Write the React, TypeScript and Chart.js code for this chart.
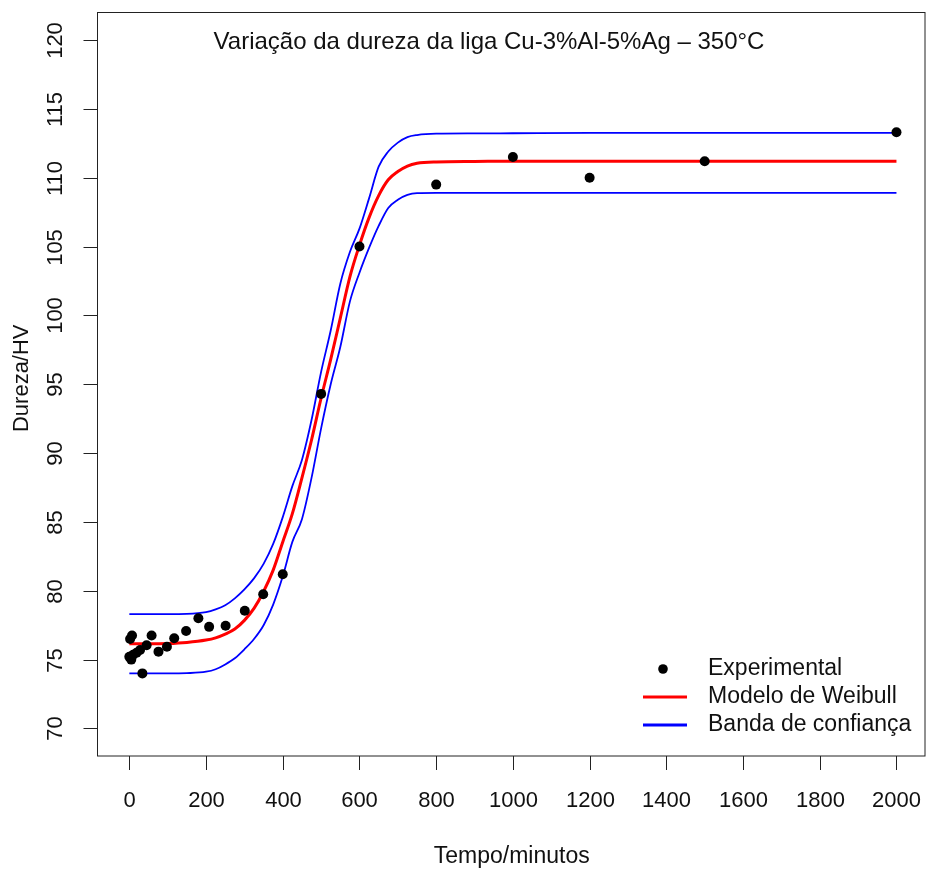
import React, { useEffect, useRef } from "react";
import { Chart, registerables } from "chart.js";

Chart.register(...registerables);

// Experimental points (minutes, HV)
const expTime = [0, 2, 5, 7, 10, 19, 28, 34, 45, 58, 76, 98, 117, 148, 180, 208, 251, 301, 349, 400, 500, 600, 800, 1000, 1200, 1500, 2000];
const expHardness = [75.2, 76.5, 75.0, 76.75, 75.35, 75.5, 75.7, 74.0, 76.05, 76.75, 75.58, 75.94, 76.55, 77.08, 78.0, 77.38, 77.46, 78.55, 79.75, 81.2, 94.3, 105.0, 109.5, 111.5, 110.0, 111.2, 113.3];

// Fitted curve and confidence band
const modelTime = [0, 50, 100, 150, 200, 225, 250, 275, 300, 325, 350, 375, 400, 425, 450, 475, 500, 525, 550, 575, 600, 625, 650, 675, 700, 725, 750, 800, 900, 1000, 1200, 1500, 2000];
const weibull = [76.15, 76.15, 76.17, 76.25, 76.42, 76.58, 76.85, 77.22, 77.85, 78.72, 79.95, 81.5, 83.55, 85.6, 88.2, 90.95, 94.0, 96.8, 99.8, 102.8, 105.1, 107.1, 108.7, 109.85, 110.45, 110.85, 111.05, 111.15, 111.18, 111.2, 111.2, 111.2, 111.2];
const upperBand = [78.3, 78.3, 78.3, 78.32, 78.45, 78.65, 78.95, 79.45, 80.1, 80.9, 81.95, 83.4, 85.35, 87.6, 89.5, 92.4, 95.9, 98.9, 102.3, 104.6, 106.3, 108.5, 110.8, 111.9, 112.55, 112.95, 113.1, 113.2, 113.22, 113.23, 113.25, 113.25, 113.25];
const lowerBand = [74.0, 74.0, 74.0, 74.02, 74.12, 74.3, 74.65, 75.1, 75.75, 76.5, 77.5, 79.0, 81.05, 83.55, 85.2, 88.2, 91.8, 95.0, 97.7, 101.0, 103.1, 104.9, 106.5, 107.8, 108.4, 108.75, 108.88, 108.9, 108.9, 108.9, 108.9, 108.9, 108.9];

const xTicks = [0, 200, 400, 600, 800, 1000, 1200, 1400, 1600, 1800, 2000];
const yTicks = [70, 75, 80, 85, 90, 95, 100, 105, 110, 115, 120];

const titleText = "Variação da dureza da liga Cu-3%Al-5%Ag – 350°C";
const xTitle = "Tempo/minutos";
const yTitle = "Dureza/HV";
const legendLabels = ["Experimental", "Modelo de Weibull", "Banda de confiança"];

const FONT = '"Liberation Sans", Arial, sans-serif';
const W = 926;
const H = 871;

const rPlot = {
  id: "rplot",
  afterDraw(chart: any) {
    const ctx = chart.ctx as CanvasRenderingContext2D;
    const a = chart.chartArea;
    const xs = chart.scales.x;
    const ys = chart.scales.y;
    ctx.save();
    ctx.strokeStyle = "#222";
    ctx.lineWidth = 1;
    ctx.strokeRect(a.left, a.top, a.right - a.left - 1, a.bottom - a.top);

    ctx.fillStyle = "#111";
    ctx.font = `22px ${FONT}`;
    ctx.textAlign = "center";
    ctx.textBaseline = "middle";
    // x ticks
    for (const v of xTicks) {
      const px = Math.round(xs.getPixelForValue(v)) + 0.5;
      ctx.beginPath();
      ctx.moveTo(px, a.bottom);
      ctx.lineTo(px, a.bottom + 14);
      ctx.stroke();
      ctx.fillText(String(v), px, a.bottom + 45);
    }
    // y ticks
    for (const v of yTicks) {
      const py = Math.round(ys.getPixelForValue(v)) + 0.5;
      ctx.beginPath();
      ctx.moveTo(a.left - 14, py);
      ctx.lineTo(a.left, py);
      ctx.stroke();
      ctx.save();
      ctx.translate(a.left - 42, py);
      ctx.rotate(-Math.PI / 2);
      ctx.fillText(String(v), 0, 0);
      ctx.restore();
    }
    // axis titles
    ctx.font = `23px ${FONT}`;
    ctx.fillText(xTitle, (a.left + a.right) / 2, a.bottom + 101);
    ctx.save();
    ctx.translate(22, (a.top + a.bottom) / 2 - 6);
    ctx.rotate(-Math.PI / 2);
    ctx.font = `22px ${FONT}`;
    ctx.fillText(yTitle, 0, 0);
    ctx.restore();

    // title
    ctx.font = `24px ${FONT}`;
    ctx.fillText(titleText, 489, 42);

    // legend
    ctx.font = `23px ${FONT}`;
    ctx.textAlign = "left";
    ctx.fillStyle = "#000";
    ctx.beginPath();
    ctx.arc(663, 669, 4.8, 0, Math.PI * 2);
    ctx.fill();
    ctx.lineWidth = 3;
    ctx.strokeStyle = "#ff0000";
    ctx.beginPath();
    ctx.moveTo(643, 697);
    ctx.lineTo(687, 697);
    ctx.stroke();
    ctx.strokeStyle = "#0000ff";
    ctx.beginPath();
    ctx.moveTo(643, 725);
    ctx.lineTo(687, 725);
    ctx.stroke();
    ctx.fillStyle = "#111";
    ctx.fillText(legendLabels[0], 708, 669);
    ctx.fillText(legendLabels[1], 708, 697);
    ctx.fillText(legendLabels[2], 708, 725);
    ctx.restore();
  },
};

export default function App() {
  const ref = useRef<HTMLCanvasElement | null>(null);
  useEffect(() => {
    if (!ref.current) return;
    const pts = (xsArr: number[], ysArr: number[]) => xsArr.map((x, i) => ({ x, y: ysArr[i] }));
    const chart = new Chart(ref.current, {
      type: "line",
      data: {
        datasets: [
          {
            label: legendLabels[0],
            type: "scatter",
            data: pts(expTime, expHardness),
            backgroundColor: "#000",
            borderColor: "#000",
            pointRadius: 5,
            pointBorderWidth: 0,
            showLine: false,
            order: 0,
          } as any,
          {
            label: legendLabels[1],
            data: pts(modelTime, weibull),
            borderColor: "#ff0000",
            borderWidth: 3,
            pointRadius: 0,
            fill: false,
            cubicInterpolationMode: "monotone",
            order: 1,
          },
          {
            label: legendLabels[2],
            data: pts(modelTime, upperBand),
            borderColor: "#0000ff",
            borderWidth: 1.8,
            pointRadius: 0,
            fill: false,
            cubicInterpolationMode: "monotone",
            order: 2,
          },
          {
            label: legendLabels[2] + " (inf)",
            data: pts(modelTime, lowerBand),
            borderColor: "#0000ff",
            borderWidth: 1.8,
            pointRadius: 0,
            fill: false,
            cubicInterpolationMode: "monotone",
            order: 2,
          },
        ],
      },
      options: {
        responsive: false,
        animation: false,
        events: [],
        layout: { autoPadding: false, padding: { left: 97.5, top: 12.5, right: 0, bottom: 115 } },
        plugins: { legend: { display: false }, tooltip: { enabled: false }, title: { display: false } },
        scales: {
          x: { type: "linear", min: -83, max: 2077, display: false },
          y: { type: "linear", min: 68, max: 122, display: false },
        },
      },
      plugins: [rPlot],
    });
    return () => chart.destroy();
  }, []);
  return (
    <div style={{ position: "absolute", left: 0, top: 0, width: W, height: H, background: "#fff" }}>
      <canvas ref={ref} width={W} height={H} style={{ display: "block", width: W, height: H }} />
    </div>
  );
}
